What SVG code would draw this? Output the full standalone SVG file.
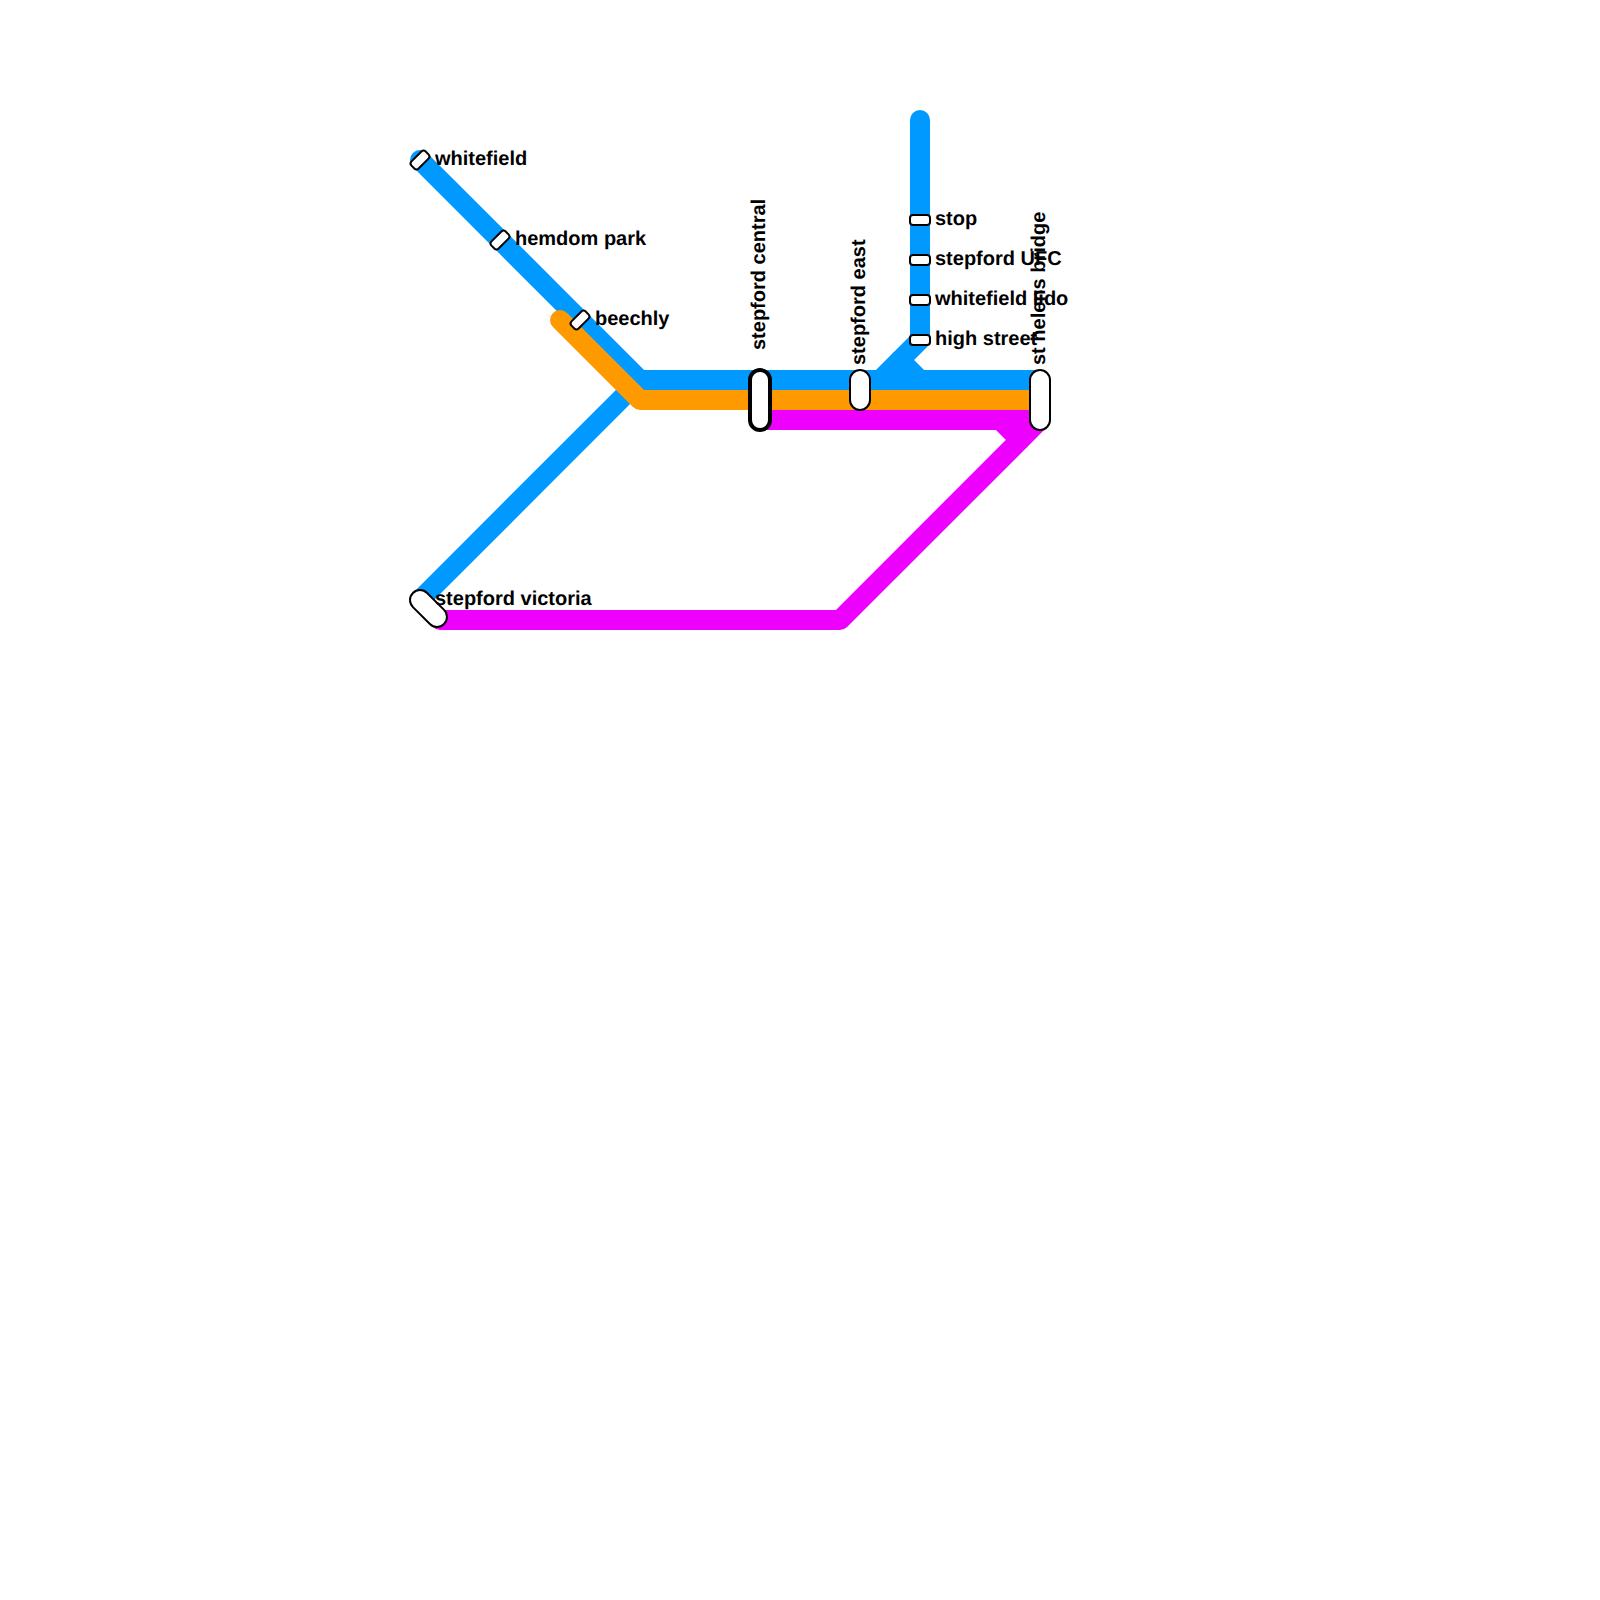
<svg xmlns="http://www.w3.org/2000/svg" width="1600" height="1600" viewBox="0 0 1600 1600">
<style>
.l{fill:none;stroke-width:20;stroke-linecap:round;stroke-linejoin:round}
.b{stroke:#0099ff}.o{stroke:#ff9900}.m{stroke:#ee00ff}
.s{fill:#fff;stroke:#000;stroke-width:2}
.t{font-family:"Liberation Sans",Arial,sans-serif;font-size:20px;font-weight:bold;fill:#000;text-rendering:geometricPrecision}
</style>
<rect width="1600" height="1600" fill="#fff"/>
<g id="connectors">
<path class="l b" d="M420 160L640 380H1040"/>
<path class="l b" d="M920 120V340L880 380"/>
<path class="l b" d="M900 360L920 380"/>
<path class="l b" d="M420 600L640 380"/>
<path class="l m" d="M760 420H1040L840 620H440"/>
<path class="l m" d="M1000 420L1020 440"/>
<path class="l o" d="M560 320L640 400H1040"/>
</g>
<g id="whitefield"><rect class="s" x="410" y="155" width="20" height="10" rx="3" transform="rotate(-45 420 160)"/><text class="t" x="435" y="165">whitefield</text></g>
<g id="hemdom-park"><rect class="s" x="490" y="235" width="20" height="10" rx="3" transform="rotate(-45 500 240)"/><text class="t" x="515" y="245">hemdom park</text></g>
<g id="beechly"><rect class="s" x="570" y="315" width="20" height="10" rx="3" transform="rotate(-45 580 320)"/><text class="t" x="595" y="325">beechly</text></g>
<g id="stepford-victoria"><rect class="s" x="406.5" y="598.5" width="44" height="20" rx="10" transform="rotate(45 428.5 608.5)"/><text class="t" x="435" y="605">stepford victoria</text></g>
<g id="stepford-central"><rect x="750" y="370" width="20" height="60" rx="10" fill="#fff" stroke="#000" stroke-width="4"/><text class="t" transform="translate(765 350) rotate(-90)">stepford central</text></g>
<g id="stepford-east"><rect class="s" x="850" y="370" width="20" height="40" rx="10"/><text class="t" transform="translate(865 365) rotate(-90)">stepford east</text></g>
<g id="st-helens-bridge"><rect class="s" x="1030" y="370" width="20" height="60" rx="10"/><text class="t" transform="translate(1045 365) rotate(-90)">st helens bridge</text></g>
<g id="stop"><rect class="s" x="910" y="215" width="20" height="10" rx="3"/><text class="t" x="935" y="225">stop</text></g>
<g id="stepford-ufc"><rect class="s" x="910" y="255" width="20" height="10" rx="3"/><text class="t" x="935" y="265">stepford UFC</text></g>
<g id="whitefield-lido"><rect class="s" x="910" y="295" width="20" height="10" rx="3"/><text class="t" x="935" y="305">whitefield lido</text></g>
<g id="high-street"><rect class="s" x="910" y="335" width="20" height="10" rx="3"/><text class="t" x="935" y="345">high street</text></g>
</svg>
